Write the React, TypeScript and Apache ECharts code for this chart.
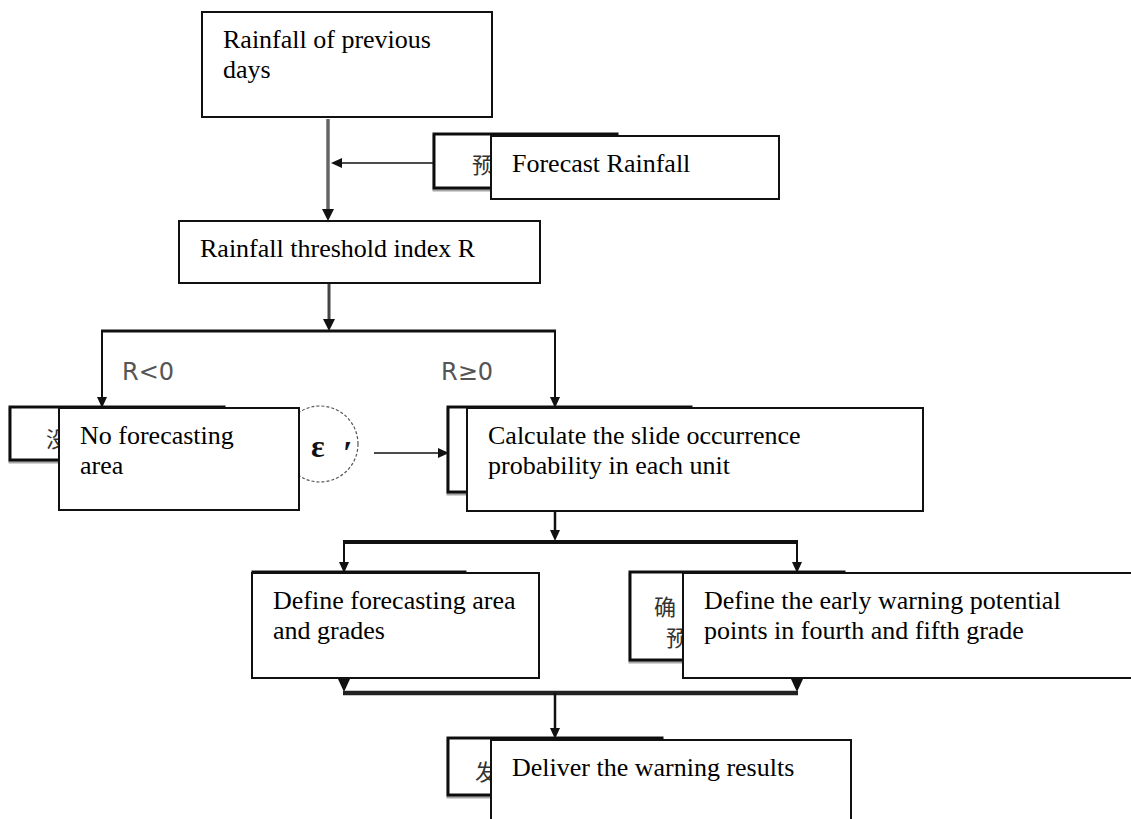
import React, { useEffect, useRef } from "react";
import * as echarts from "echarts";

// ---- Text content (data) ----
const mainLabels: string[][] = [
  ["Rainfall of previous", "days"],
  ["Forecast Rainfall"],
  ["Rainfall threshold index R"],
  ["No forecasting", "area"],
  ["Calculate the slide occurrence", "probability in each unit"],
  ["Define forecasting area", "and grades"],
  ["Define the early warning potential", "points in fourth and fifth grade"],
  ["Deliver the warning results"],
];
// visible (partly hidden) characters of the original Chinese boxes behind
const backLabels: string[][] = [
  ["预"],
  ["没"],
  ["确", "预"],
  ["发"],
];
const branchLabels: string[] = ["R<0", "R≥0"];
const circleLabels: string[] = ["ε", "′"];

// ---- Layout (positions / sizes) ----
// front boxes: [x1, y1, x2, y2]
const frontBoxes = [
  [202, 12, 492, 117],
  [491, 136, 779, 199],
  [179, 221, 540, 283],
  [59, 408, 299, 510],
  [467, 408, 923, 511],
  [252, 573, 539, 678],
  [683, 573, 1145, 678],
  [491, 740, 851, 840],
];
// back boxes (partially hidden)
const backBoxes = [
  [434, 134, 617, 188],
  [10, 407, 224, 460],
  [448, 407, 691, 492],
  [253, 572, 465, 600],
  [630, 572, 844, 660],
  [448, 738, 662, 795],
];
// back texts: [x, yCenter] for each line, indexes match backLabels
const backTextPos = [
  [[472, 163]],
  [[46, 437]],
  [[654, 605], [666, 636]],
  [[475, 770]],
];

const SERIF = '"Liberation Serif", "Times New Roman", serif';
const CJK = '"Noto Sans CJK SC", sans-serif';

function arrowDown(x: number, tipY: number, w = 5, h = 11) {
  return {
    type: "polygon",
    shape: { points: [[x - w, tipY - h], [x + w, tipY - h], [x, tipY]] },
    style: { fill: "#111" },
  };
}
function arrowLeft(tipX: number, y: number) {
  return {
    type: "polygon",
    shape: { points: [[tipX + 11, y - 5], [tipX + 11, y + 5], [tipX, y]] },
    style: { fill: "#111" },
  };
}
function arrowRight(tipX: number, y: number) {
  return {
    type: "polygon",
    shape: { points: [[tipX - 11, y - 5], [tipX - 11, y + 5], [tipX, y]] },
    style: { fill: "#111" },
  };
}
function line(x1: number, y1: number, x2: number, y2: number, w = 2, c = "#111") {
  return {
    type: "line",
    shape: { x1, y1, x2, y2 },
    style: { stroke: c, lineWidth: w },
  };
}

export default function App() {
  const ref = useRef<HTMLDivElement>(null);
  useEffect(() => {
    document.body.style.margin = "0";
    const chart = echarts.init(ref.current!, null, { renderer: "svg" });
    const els: any[] = [];

    // connectors
    els.push(line(328, 119, 328, 214, 3.5, "#666"));
    els.push(arrowDown(328, 221, 6, 12));
    els.push(line(434, 163, 340, 163, 1.5));
    els.push(arrowLeft(331, 163));

    els.push(line(329, 284, 329, 326, 3, "#444"));
    els.push(arrowDown(329, 331, 6, 12));
    els.push(line(101, 331, 556, 331, 3));
    els.push(line(102, 331, 102, 400, 2));
    els.push(arrowDown(102, 408));
    els.push(line(555, 331, 555, 400, 2));
    els.push(arrowDown(555, 408));

    els.push(line(374, 453, 440, 453, 1.5));
    els.push(arrowRight(449, 453));

    els.push(line(555, 511, 555, 536, 2.5));
    els.push(arrowDown(555, 541));
    els.push(line(343, 542, 798, 542, 4));
    els.push(line(344, 542, 344, 565, 2));
    els.push(arrowDown(344, 573));
    els.push(line(797, 542, 797, 565, 2));
    els.push(arrowDown(797, 573));

    els.push(arrowDown(344, 692, 6, 13));
    els.push(arrowDown(797, 692, 6, 13));
    els.push(line(343, 693, 798, 693, 4.5, "#222"));
    els.push(line(555, 693, 555, 730, 2.5));
    els.push(arrowDown(555, 739));

    // back boxes
    backBoxes.forEach(([x1, y1, x2, y2]) => {
      els.push({
        type: "rect",
        shape: { x: x1, y: y1, width: x2 - x1, height: y2 - y1 },
        style: { fill: "#fff", stroke: "#111", lineWidth: 3, shadowColor: "rgba(0,0,0,0.35)", shadowOffsetY: 2, shadowOffsetX: 0, shadowBlur: 1 },
      });
    });
    backLabels.forEach((lines, i) => {
      lines.forEach((t, j) => {
        const [x, y] = backTextPos[i][j];
        els.push({
          type: "text",
          x, y,
          style: { text: t, font: `22px ${CJK}`, fill: "#333", align: "left", verticalAlign: "middle" },
        });
      });
    });

    // dashed circle
    els.push({
      type: "circle",
      shape: { cx: 320, cy: 444, r: 38 },
      style: { fill: "none", stroke: "#555", lineWidth: 1.2, lineDash: [3, 2] },
    });
    els.push({
      type: "text", x: 311, y: 446,
      style: { text: circleLabels[0], font: `bold 32px ${SERIF}`, fill: "#111", align: "left", verticalAlign: "middle" },
    });
    els.push({
      type: "text", x: 343, y: 452,
      style: { text: circleLabels[1], font: `bold 34px ${SERIF}`, fill: "#111", align: "left", verticalAlign: "middle" },
    });

    // front boxes
    frontBoxes.forEach(([x1, y1, x2, y2], i) => {
      els.push({
        type: "rect",
        shape: { x: x1, y: y1, width: x2 - x1, height: y2 - y1 },
        style: { fill: "#fff", stroke: "#111", lineWidth: 2 },
      });
      mainLabels[i].forEach((t, j) => {
        els.push({
          type: "text",
          x: x1 + 21,
          y: y1 + 35 - 8 + j * 30,
          style: { text: t, font: `26px ${SERIF}`, fill: "#000", align: "left", verticalAlign: "middle" },
        });
      });
    });

    // branch labels
    els.push({
      type: "text", x: 122, y: 372,
      style: { text: branchLabels[0], font: `24px "DejaVu Sans", sans-serif`, fill: "#555", align: "left", verticalAlign: "middle" },
    });
    els.push({
      type: "text", x: 441, y: 372,
      style: { text: branchLabels[1], font: `24px "DejaVu Sans", sans-serif`, fill: "#555", align: "left", verticalAlign: "middle" },
    });

    chart.setOption({
      animation: false,
      backgroundColor: "#fff",
      graphic: { elements: els },
    });
    return () => chart.dispose();
  }, []);
  return <div ref={ref} style={{ width: 1131, height: 819 }} />;
}
